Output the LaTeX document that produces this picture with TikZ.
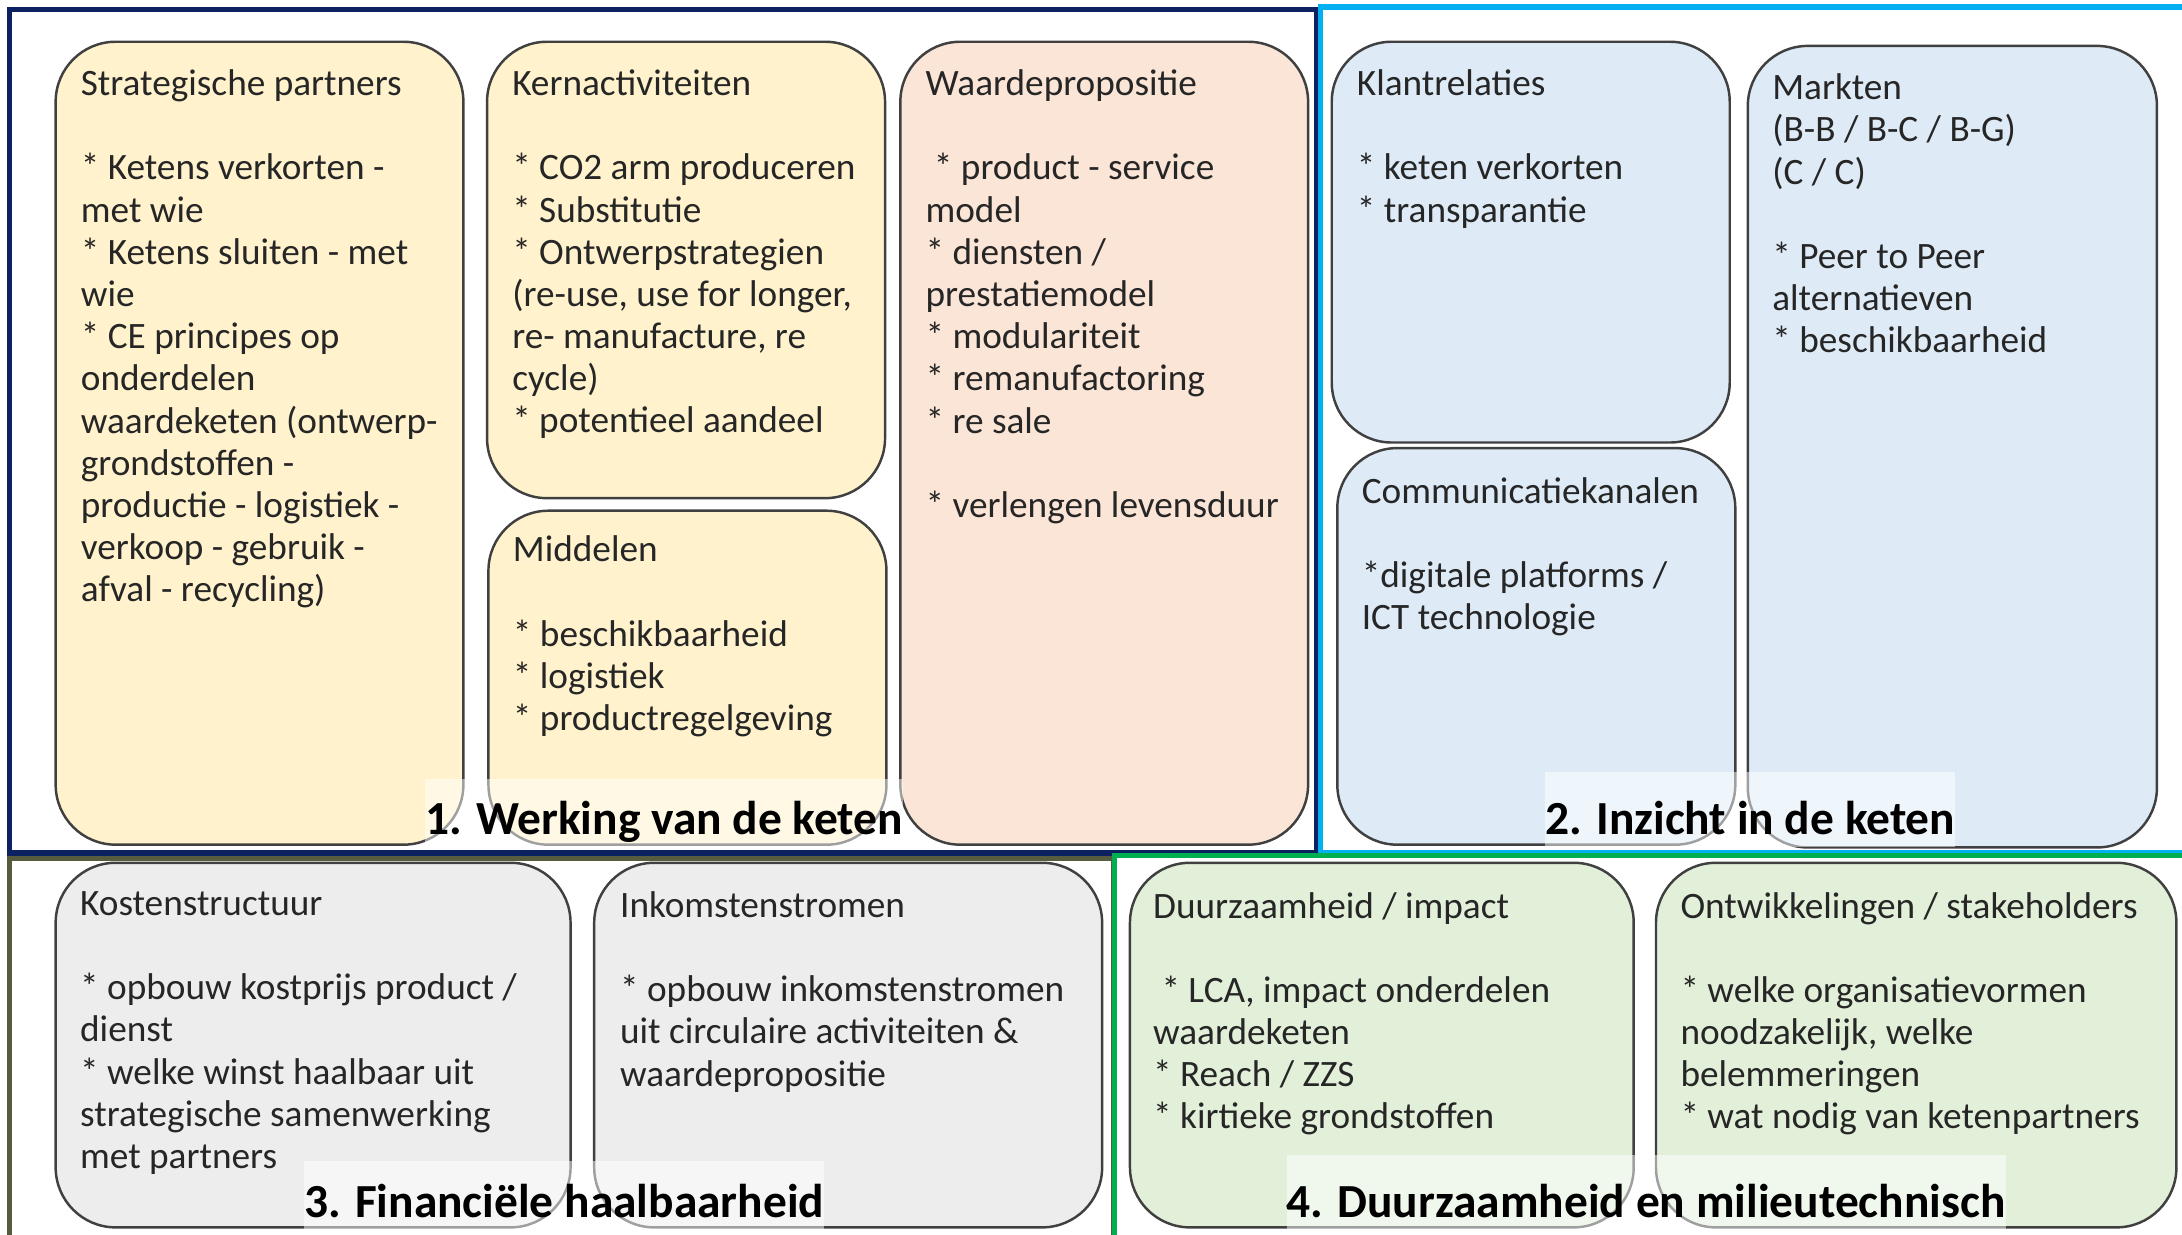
\documentclass[tikz,border=0pt]{standalone}
\usepackage{fontspec}
\setmainfont{Carlito}
\usetikzlibrary{fit}

\definecolor{navyframe}{HTML}{0B2160}
\definecolor{oliveframe}{HTML}{585C3F}
\definecolor{skyframe}{HTML}{00B0F0}
\definecolor{greenframe}{HTML}{00B050}
\definecolor{cellyellow}{HTML}{FFF2CC}
\definecolor{cellpeach}{HTML}{FBE5D6}
\definecolor{cellblue}{HTML}{DEEBF7}
\definecolor{cellgrey}{HTML}{EDEDED}
\definecolor{cellgreen}{HTML}{E2F0D9}

\tikzset{
  kaderline/.style={line width=1.5pt},
  cell/.style={draw=black!75, line width=0.7pt, rounded corners=0.6cm, inner sep=0pt},
  celltext/.style={anchor=north west, align=left, inner sep=0pt, text=black!85,
    font=\fontsize{10.6}{12}\selectfont, execute at begin node=\strut},
  chaptitle/.style={anchor=base west, inner xsep=0pt, inner ysep=0pt, fill=white,
    fill opacity=0.5, text opacity=1, font=\fontsize{13.5}{16}\selectfont\bfseries,
    text height=16pt, text depth=3.5pt},
}

\begin{document}
\begin{tikzpicture}[x=0.013916cm, y=-0.013916cm]
    \useasboundingbox (0,0) rectangle (1568,887);
    \clip (0,0) rectangle (1568,887);

    % the four frames
    \draw[kaderline, draw=navyframe] (7,7) rectangle (946,613);
    \draw[kaderline, draw=oliveframe] (7,617) rectangle (800,900);
    \draw[kaderline, draw=skyframe] (949,5) rectangle (1580,613);
    \draw[kaderline, draw=greenframe] (801,615) rectangle (1580,900);

    % 1. werking van de keten
    \node[cell, fill=cellyellow, fit={(40,30) (333,607)}] (strat) {};
    \node[cell, fill=cellyellow, fit={(350,30) (636,358)}] (kern) {};
    \node[cell, fill=cellyellow, fit={(351,367) (637,607)}] (middel) {};
    \node[cell, fill=cellpeach, fit={(647,30) (940,607)}] (waarde) {};

    % 2. inzicht in de keten
    \node[cell, fill=cellblue, fit={(957,30) (1243,318)}] (klant) {};
    \node[cell, fill=cellblue, fit={(961,322) (1247,607)}] (kanaal) {};
    \node[cell, fill=cellblue, fit={(1256,33) (1550,609)}] (markt) {};

    % 3. financiele haalbaarheid
    \node[cell, fill=cellgrey, fit={(40,620) (410,882)}] (kosten) {};
    \node[cell, fill=cellgrey, fit={(427,620) (792,882)}] (inkomst) {};

    % 4. duurzaamheid
    \node[cell, fill=cellgreen, fit={(812,620) (1174,882)}] (duurz) {};
    \node[cell, fill=cellgreen, fit={(1190,620) (1564,882)}] (ontw) {};

    \node[celltext] (stratT) at ([shift={(18.5,20.5)}]strat.north west) {Strategische partners\\[12pt]
      * Ketens verkorten -\\ met wie\\ * Ketens sluiten - met\\ wie\\ * CE principes op\\
      onderdelen\\ waardeketen (ontwerp-\\ grondstoffen -\\ productie - logistiek -\\
      verkoop - gebruik -\\ afval - recycling)};
    \node[celltext] (kernT) at ([shift={(18.5,20.5)}]kern.north west) {Kernactiviteiten\\[12pt]
      * CO2 arm produceren\\ * Substitutie\\ * Ontwerpstrategien\\ (re-use, use for longer,\\
      re- manufacture, re\\ cycle)\\ * potentieel aandeel};
    \node[celltext] (middelT) at ([shift={(18,18.5)}]middel.north west) {Middelen\\[12pt]
      * beschikbaarheid\\ * logistiek\\ * productregelgeving};
    \node[celltext] (waardeT) at ([shift={(18.5,20.5)}]waarde.north west) {Waardepropositie\\[12pt]
      \ * product - service\\ model\\ * diensten /\\ prestatiemodel\\ * modulariteit\\
      * remanufactoring\\ * re sale\\[12pt] * verlengen levensduur};

    \node[celltext] (klantT) at ([shift={(18.5,20.5)}]klant.north west) {Klantrelaties\\[12pt]
      * keten verkorten\\ * transparantie};
    \node[celltext] (kanaalT) at ([shift={(18,21.5)}]kanaal.north west) {Communicatiekanalen\\[12pt]
      *digitale platforms /\\ ICT technologie};
    \node[celltext] (marktT) at ([shift={(18,20.5)}]markt.north west) {Markten\\
      (B-B / B-C / B-G)\\ (C / C)\\[12pt] * Peer to Peer\\ alternatieven\\ * beschikbaarheid};

    \node[celltext] (kostenT) at ([shift={(18,21)}]kosten.north west) {Kostenstructuur\\[12pt]
      * opbouw kostprijs product /\\ dienst\\ * welke winst haalbaar uit\\
      strategische samenwerking\\ met partners};
    \node[celltext] (inkomstT) at ([shift={(19,21)}]inkomst.north west) {Inkomstenstromen\\[12pt]
      * opbouw inkomstenstromen\\ uit circulaire activiteiten \&\\ waardepropositie};
    \node[celltext] (duurzT) at ([shift={(17,21.5)}]duurz.north west) {Duurzaamheid / impact\\[12pt]
      \ * LCA, impact onderdelen\\ waardeketen\\ * Reach / ZZS\\ * kirtieke grondstoffen};
    \node[celltext] (ontwT) at ([shift={(18,21.5)}]ontw.north west) {Ontwikkelingen / stakeholders\\[12pt]
      * welke organisatievormen\\ noodzakelijk, welke\\ belemmeringen\\ * wat nodig van ketenpartners};

    % titles of the four parts
    \node[chaptitle] (werking) at (305,600) {1. Werking van de keten};
    \node[chaptitle, text height=17.8pt] (inzicht) at (1110,600) {2. Inzicht in de keten};
    \node[chaptitle] (financieel) at (218,875) {3. Financiële haalbaarheid};
    \node[chaptitle, text height=17.8pt] (milieu) at (924,875) {4. Duurzaamheid en milieutechnisch};
\end{tikzpicture}
\end{document}
